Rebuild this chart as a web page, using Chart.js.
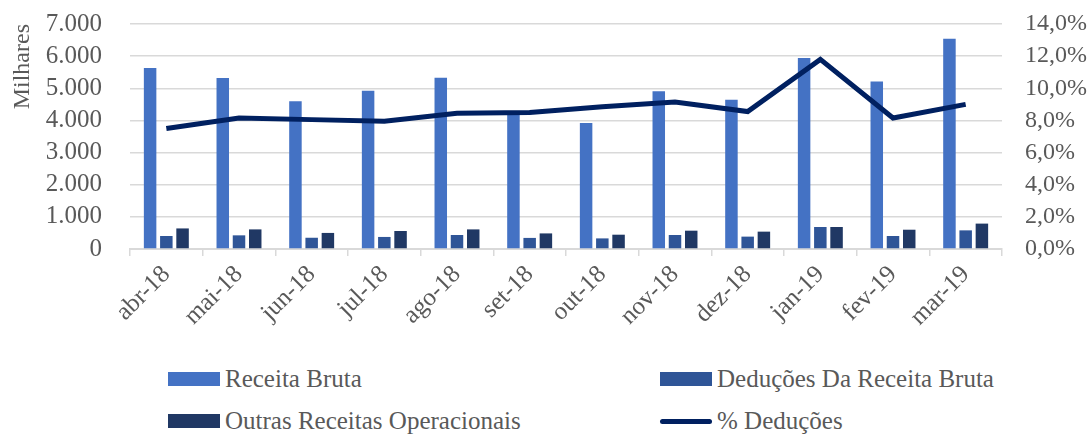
<!DOCTYPE html>
<html>
<head>
<meta charset="utf-8">
<script src="https://cdn.jsdelivr.net/npm/chart.js@4"></script>
<style>
  body { margin: 0; background: #fff; }
  #wrap { position: relative; width: 1090px; height: 435px; }
  #chart { position: absolute; left: 0; top: 0; }
  .leg { position: absolute; height: 30px; font-family: "Liberation Serif", serif; font-size: 25px; color: #595959; display: flex; align-items: center; white-space: nowrap; }
  .leg i { display: inline-block; width: 52px; margin-right: 5px; }
</style>
</head>
<body>
<div id="wrap">
  <canvas id="chart" width="1090" height="350"></canvas>
  <div id="legend"></div>
</div>
<script>
// months
const months = ["abr-18", "mai-18", "jun-18", "jul-18", "ago-18", "set-18", "out-18", "nov-18", "dez-18", "jan-19", "fev-19", "mar-19"];

// values in thousands (Milhares)
const receitaBruta = [5630, 5320, 4595, 4925, 5330, 4250, 3920, 4905, 4645, 5940, 5215, 6545];
const deducoes = [405, 425, 350, 375, 435, 345, 330, 435, 385, 685, 405, 580];
const outrasReceitas = [640, 610, 500, 560, 610, 485, 445, 570, 540, 685, 600, 790];

// percent
const pctDeducoes = [7.5, 8.15, 8.05, 7.95, 8.45, 8.5, 8.85, 9.15, 8.55, 11.8, 8.15, 9.0];

const grey = "#595959";
const gridGrey = "#d9d9d9";
const fontFam = "'Liberation Serif', serif";

function fmtThousands(v) {
  return String(Math.round(v)).replace(/\B(?=(\d{3})+(?!\d))/g, ".");
}

const ctx = document.getElementById("chart").getContext("2d");

const chart = new Chart(ctx, {
  data: {
    labels: months,
    datasets: [
      {
        type: "line",
        label: "% Deduções",
        data: pctDeducoes,
        yAxisID: "yRight",
        borderColor: "#002060",
        backgroundColor: "#002060",
        borderWidth: 5,
        pointRadius: 0,
        tension: 0,
        order: 0,
      },
      {
        type: "bar",
        label: "Receita Bruta",
        data: receitaBruta,
        yAxisID: "yLeft",
        backgroundColor: "#4472c4",
        order: 1,
      },
      {
        type: "bar",
        label: "Deduções Da Receita Bruta",
        data: deducoes,
        yAxisID: "yLeft",
        backgroundColor: "#2f5597",
        order: 1,
      },
      {
        type: "bar",
        label: "Outras Receitas Operacionais",
        data: outrasReceitas,
        yAxisID: "yLeft",
        backgroundColor: "#203864",
        order: 1,
      },
    ],
  },
  options: {
    responsive: false,
    animation: false,
    layout: { padding: { top: 24, right: 0, left: 0, bottom: 0 } },
    datasets: {
      bar: { categoryPercentage: 0.67, barPercentage: 0.77 },
    },
    plugins: {
      legend: { display: false },
      tooltip: { enabled: false },
    },
    scales: {
      x: {
        grid: { display: true, drawOnChartArea: false, color: gridGrey, lineWidth: 1.5, tickLength: 7, offset: true },
        border: { display: true, color: gridGrey, width: 2 },
        ticks: {
          color: grey,
          font: { family: fontFam, size: 25 },
          minRotation: 45,
          maxRotation: 45,
          autoSkip: false,
          padding: 4,
        },
        afterFit: (axis) => { axis.height = 101; },
      },
      yLeft: {
        type: "linear",
        position: "left",
        min: 0,
        max: 7000,
        ticks: {
          stepSize: 1000,
          autoSkip: false,
          color: grey,
          font: { family: fontFam, size: 25 },
          padding: 28,
          callback: (v) => fmtThousands(v),
        },
        title: {
          display: true,
          text: "Milhares",
          align: "end",
          color: grey,
          font: { family: fontFam, size: 24 },
          padding: { top: 8, bottom: 0 },
        },
        grid: { color: gridGrey, lineWidth: 1.5, drawTicks: false },
        border: { display: false },
        afterFit: (axis) => { axis.width = 130; axis.paddingTop = 0; axis.paddingBottom = 0; },
      },
      yRight: {
        type: "linear",
        position: "right",
        min: 0,
        max: 14,
        ticks: {
          stepSize: 2,
          autoSkip: false,
          color: grey,
          font: { family: fontFam, size: 24 },
          padding: 23,
          callback: (v) => v.toFixed(1).replace(".", ",") + "%",
        },
        grid: { drawOnChartArea: false, drawTicks: false },
        border: { display: false },
        afterFit: (axis) => { axis.width = 88; axis.paddingTop = 0; axis.paddingBottom = 0; },
      },
    },
  },
});

// legend in two columns under the chart
const legendPos = [
  { idx: 1, left: 168, top: 364 },
  { idx: 2, left: 660, top: 364 },
  { idx: 3, left: 168, top: 406 },
  { idx: 0, left: 660, top: 406 },
];
const legendEl = document.getElementById("legend");
legendPos.forEach((p) => {
  const ds = chart.data.datasets[p.idx];
  const item = document.createElement("div");
  item.className = "leg";
  item.style.left = p.left + "px";
  item.style.top = p.top + "px";
  const sw = document.createElement("i");
  sw.style.background = ds.type === "line" ? ds.borderColor : ds.backgroundColor;
  sw.style.height = ds.type === "line" ? "5px" : "14px";
  if (ds.type === "line") sw.style.borderRadius = "3px";
  item.appendChild(sw);
  item.appendChild(document.createTextNode(ds.label));
  legendEl.appendChild(item);
});
</script>
</body>
</html>
